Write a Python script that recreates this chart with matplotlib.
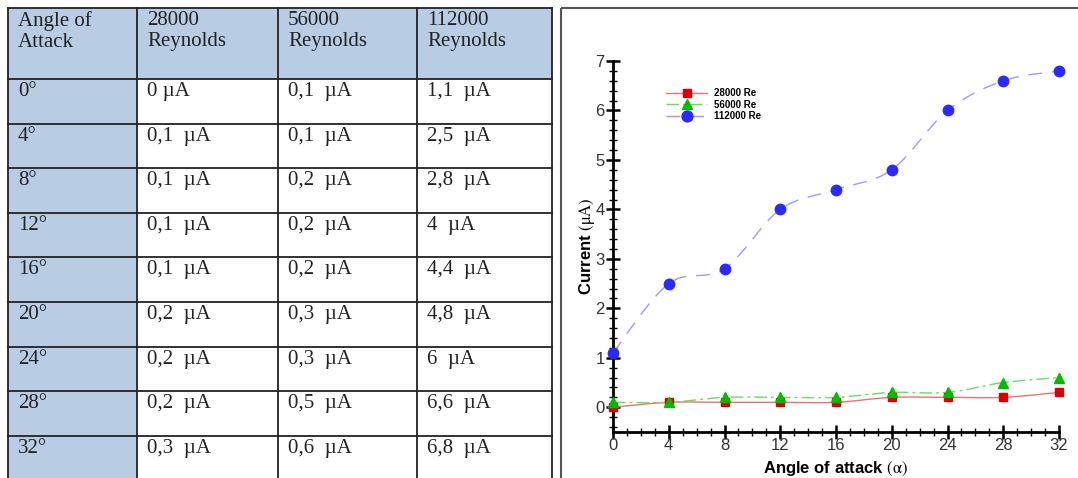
import matplotlib
matplotlib.use("Agg")
import matplotlib.pyplot as plt
from matplotlib.path import Path
from matplotlib.patches import PathPatch, Rectangle
from matplotlib.ticker import MultipleLocator
from matplotlib.lines import Line2D

plt.rcParams["mathtext.fontset"] = "stix"

# ---------------- data ----------------
angles = [0, 4, 8, 12, 16, 20, 24, 28, 32]
re_28000 = [0.0, 0.1, 0.1, 0.1, 0.1, 0.2, 0.2, 0.2, 0.3]
re_56000 = [0.1, 0.1, 0.2, 0.2, 0.2, 0.3, 0.3, 0.5, 0.6]
re_112000 = [1.1, 2.5, 2.8, 4.0, 4.4, 4.8, 6.0, 6.6, 6.8]
header_labels = ["Angle of\nAttack", "28000\nReynolds", "56000\nReynolds", "112000\nReynolds"]
series_labels = ["28000 Re", "56000 Re", "112000 Re"]
x_ticks = [0, 4, 8, 12, 16, 20, 24, 28, 32]
y_ticks = [0, 1, 2, 3, 4, 5, 6, 7]

W, H = 1078, 478
fig = plt.figure(figsize=(W / 100, H / 100), dpi=100)

# ---------------- table (pixel coordinates) ----------------
tab = fig.add_axes([0, 0, 1, 1])
tab.set_xlim(0, W)
tab.set_ylim(H, 0)
tab.axis("off")

col_edges = [8, 137, 278, 417, 552]
row_edges = [8, 79, 124, 168, 213, 257, 302, 347, 391, 436, 481]
fill = "#b8cce4"

def fmt(v):
    if float(v).is_integer():
        return f"{int(v)}  \u00b5A"
    return f"{v}".replace(".", ",") + "  \u00b5A"

serif = ["Liberation Serif", "DejaVu Serif"]
tab.add_patch(Rectangle((col_edges[0], row_edges[0]), col_edges[-1] - col_edges[0],
                        row_edges[1] - row_edges[0], facecolor=fill, edgecolor="none"))
tab.add_patch(Rectangle((col_edges[0], row_edges[1]), col_edges[1] - col_edges[0],
                        row_edges[-1] - row_edges[1], facecolor=fill, edgecolor="none"))
for x in col_edges:
    tab.plot([x, x], [row_edges[0], row_edges[-1]], color="#222222", lw=1.3)
for y in row_edges:
    tab.plot([col_edges[0], col_edges[-1]], [y, y], color="#222222", lw=1.3)

for j, lab in enumerate(header_labels):
    tab.text(col_edges[j] + 10, row_edges[0] + 3, lab, family=serif, fontsize=15,
             va="top", ha="left", color="#222222", linespacing=1.12)

for i, a in enumerate(angles):
    top = row_edges[i + 1] + 3
    cells = [f"{a}\u00b0", fmt(re_28000[i]), fmt(re_56000[i]), fmt(re_112000[i])]
    if i == 0:
        cells[1] = "0 \u00b5A"
    for j, c in enumerate(cells):
        tab.text(col_edges[j] + 10, top, c, family=serif, fontsize=15,
                 va="top", ha="left", color="#222222")

# chart frame
tab.add_patch(Rectangle((561, 8), 530, 480, facecolor="none", edgecolor="#555555", lw=1.5))

# ---------------- chart ----------------
ax = fig.add_axes([613 / W, 1 - 432 / H, (1059 - 613) / W, (432 - 61) / H])
ax.set_xlim(0, 32)
ax.set_ylim(-0.5, 7)
for s in ["top", "right"]:
    ax.spines[s].set_visible(False)
for s in ["left", "bottom"]:
    ax.spines[s].set_linewidth(2)
ax.patch.set_alpha(0)

def spline_path(xs, ys):
    pts = list(zip(xs, ys))
    n = len(pts)
    verts = [pts[0]]
    codes = [Path.MOVETO]
    for i in range(n - 1):
        p0 = pts[i - 1] if i > 0 else pts[i]
        p1 = pts[i]
        p2 = pts[i + 1]
        p3 = pts[i + 2] if i + 2 < n else pts[i + 1]
        c1 = (p1[0] + (p2[0] - p0[0]) / 6, p1[1] + (p2[1] - p0[1]) / 6)
        c2 = (p2[0] - (p3[0] - p1[0]) / 6, p2[1] - (p3[1] - p1[1]) / 6)
        verts += [c1, c2, p2]
        codes += [Path.CURVE4] * 3
    return Path(verts, codes)

styles = [
    dict(data=re_28000, lc="#f07070", ls="-", mc="#dd0000", marker="s", ms=5.5),
    dict(data=re_56000, lc="#66dd66", ls=(0, (9, 3, 2, 3)), mc="#00bb00", marker="^", ms=6.5),
    dict(data=re_112000, lc="#9a9aff", ls=(0, (10, 7)), mc="#2a2aff", marker="o", ms=7.5),
]
handles = []
for st, lab in zip(styles, series_labels):
    patch = PathPatch(spline_path(angles, st["data"]), facecolor="none",
                      edgecolor=st["lc"], lw=1.0, linestyle=st["ls"], zorder=2)
    ax.add_patch(patch)
    ax.plot(angles, st["data"], linestyle="none", marker=st["marker"], ms=st["ms"],
            color=st["mc"], mec=st["mc"], zorder=3, clip_on=False)
    handles.append(Line2D([], [], color=st["lc"], linestyle=st["ls"], lw=1.0,
                          marker=st["marker"], ms=st["ms"] * 1.05, mfc=st["mc"], mec=st["mc"]))

ax.set_xticks(x_ticks)
ax.set_yticks(y_ticks)
ax.xaxis.set_minor_locator(MultipleLocator(1))
ax.yaxis.set_minor_locator(MultipleLocator(0.2))
ax.tick_params(which="major", direction="inout", length=10, width=1.8,
               labelsize=12, labelcolor="#333333")
ax.tick_params(axis="x", which="major", pad=-1)
ax.tick_params(axis="y", which="major", pad=1)
ax.tick_params(which="minor", direction="inout", length=6, width=1.0)
for lbl in ax.get_xticklabels() + ax.get_yticklabels():
    lbl.set_family(["Liberation Sans", "DejaVu Sans"])

ax.set_xlabel(r"Angle of attack $\mathrm{(\alpha)}$", fontsize=12, fontweight="bold",
              family=["Liberation Sans", "DejaVu Sans"], labelpad=5)
ax.set_ylabel(r"Current $\mathrm{(\mu A)}$", fontsize=12, fontweight="bold",
              family=["Liberation Sans", "DejaVu Sans"], labelpad=-1)

leg = ax.legend(handles, series_labels, loc="upper left", bbox_to_anchor=(0.10, 0.95),
                frameon=False, handlelength=4.2, labelspacing=0.15, handletextpad=0.7,
                prop={"family": ["Liberation Sans", "DejaVu Sans"], "size": 7, "weight": "bold"})

fig.savefig("out.png", dpi=100)
